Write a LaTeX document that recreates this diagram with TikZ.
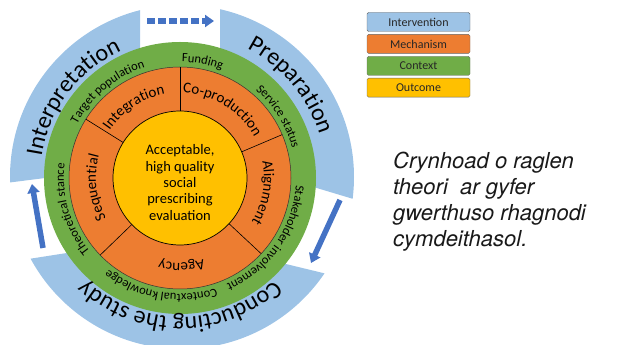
\documentclass[tikz,border=0pt]{standalone}
\usepackage{fontspec}
\setmainfont{Carlito}
\newfontfamily\capfont{TeX Gyre Heros}
\usepackage{xcolor}
\usepackage{tikz}
\usetikzlibrary{calc,positioning,arrows.meta,decorations,decorations.text}

\definecolor{interblue}{HTML}{9DC3E6}
\definecolor{mechorange}{HTML}{ED7D31}
\definecolor{contgreen}{HTML}{70AD47}
\definecolor{outgold}{HTML}{FFC000}
\definecolor{arrowblue}{HTML}{4472C4}

% text round the circle, clockwise: radius, mid angle, size, text
\newcommand{\ringtext}[4]{%
	\path[decorate,decoration={text along path,text align=center,
		text={|\fontsize{#3}{#3}\selectfont|#4}}]
		(#2+60:#1) arc[start angle=#2+60,end angle=#2-60,radius=#1];}

\begin{document}
\begin{tikzpicture}[x=1pt,y=1pt,
	legendbox/.style={draw=black!60,rounded corners=1.5pt,minimum width=103pt,
		minimum height=19pt,inner sep=0pt,text=black!85,
		font=\fontsize{12}{12}\selectfont},
	flowarrow/.style={arrowblue,line width=5.5pt,-{Triangle[length=9pt,width=12pt]}},
	divider/.style={black,line width=0.6pt}]

\useasboundingbox (0,0) rectangle (622,345);

\begin{scope}
	\clip (182,168) circle (172); % outer ring
	\fill[interblue] (-10,160) -- (140,179) -- (140,360) -- (-10,360) -- cycle; % interpretation
	\fill[interblue] (220,186) -- (370,141) -- (370,360) -- (220,360) -- cycle; % preparation
	\fill[interblue] (-10,80) -- (172.6,108.5) -- (370,60.6) -- (370,-20) -- (-10,-20) -- cycle; % conducting
\end{scope}

	\fill[contgreen] (180,167) circle (136); % context ring
	\filldraw[fill=mechorange,draw=black!80,line width=0.5pt] (180,167) circle (111); % mechanism ring

\begin{scope}[shift={(180,167)}]
	\foreach \a in {90,148,224,317,23}
		\draw[divider] (\a:67) -- (\a:111);
\end{scope}

	\filldraw[fill=outgold,draw=black,line width=0.7pt] (180,167) circle (67); % outcome

\node[align=center,font=\fontsize{14.5}{16.3}\selectfont] (outcome) at (180,162.5)
	{Acceptable,\\high quality\\social\\prescribing\\evaluation};

\begin{scope}[shift={(180,167)}]
	\ringtext{140}{143}{24}{Interpretation}
	\ringtext{146}{40}{24}{Preparation}
	\ringtext{139}{-90}{24}{Conducting the study}

	\ringtext{116}{79}{12.5}{Funding}
	\ringtext{116}{130}{12.5}{Target population}
	\ringtext{116}{32}{12.5}{Service status}
	\ringtext{116}{-35}{12.5}{Stakeholder involvement}
	\ringtext{116}{-100}{12.5}{Contextual knowledge}
	\ringtext{116}{196}{12.5}{Theoretical stance}

	\ringtext{85}{123}{15}{Integration}
	\ringtext{85}{58.5}{15}{Co-production}
	\ringtext{84}{-10}{15}{Alignment}
	\ringtext{85}{-89}{15}{Agency}
	\ringtext{84}{186.5}{15}{Sequential}
\end{scope}

\coordinate (topstart) at (147,324);
\coordinate (topend) at (214,324);
\coordinate (leftstart) at (43,97);
\coordinate (leftend) at (32,161);
\coordinate (rightstart) at (340,145);
\coordinate (rightend) at (311,82);

	\draw[flowarrow,dash pattern=on 8pt off 3pt] (topstart) -- (topend);
	\draw[flowarrow] (leftstart) -- (leftend);
	\draw[flowarrow] (rightstart) -- (rightend);

% key
\node[legendbox,fill=interblue] (intervention) at (418.5,323) {Intervention};
\node[legendbox,fill=mechorange,below=2.5pt of intervention] (mechanism) {Mechanism};
\node[legendbox,fill=contgreen,below=2.5pt of mechanism] (context) {Context};
\node[legendbox,fill=outgold,below=2.5pt of context] (outcomekey) {Outcome};

\node[anchor=north west,align=left,inner sep=0pt,text=black!90,
	font=\capfont\itshape\fontsize{22}{26}\selectfont] (caption) at (393,193)
	{Crynhoad o raglen\\theori\ \ ar gyfer\\gwerthuso rhagnodi\\cymdeithasol.};

\end{tikzpicture}
\end{document}
